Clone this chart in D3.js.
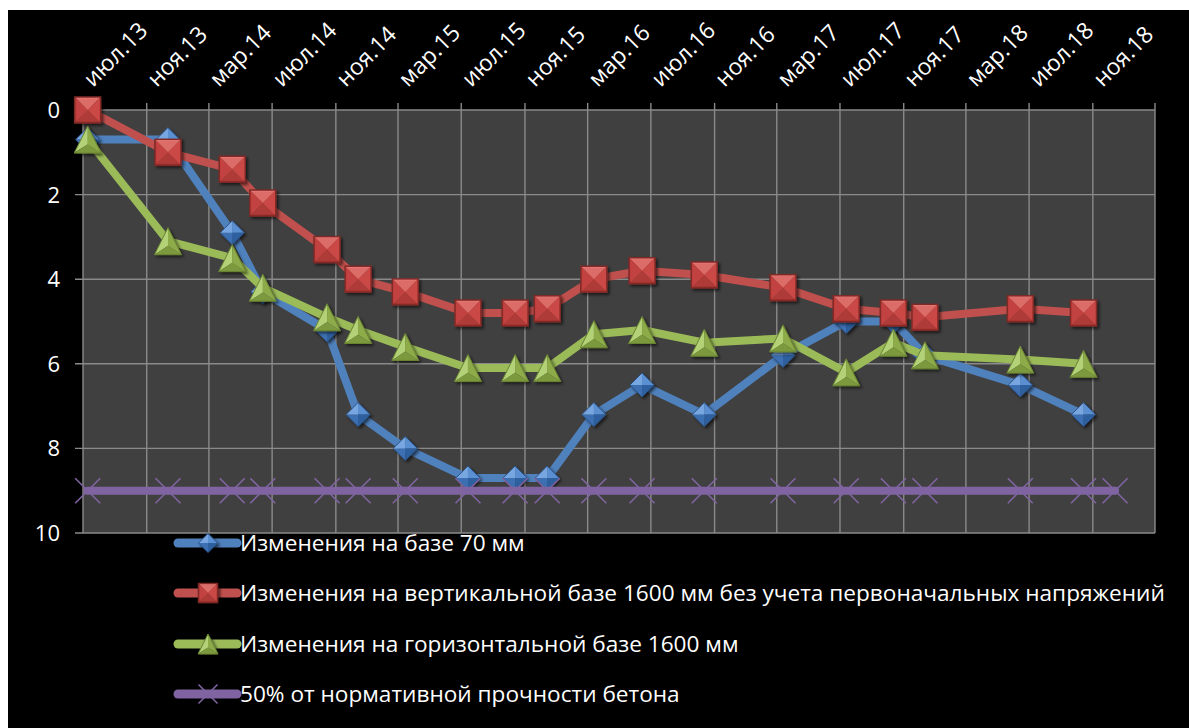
<!DOCTYPE html>
<html>
<head>
<meta charset="utf-8">
<script src="https://cdn.jsdelivr.net/npm/d3@7"></script>
<style>
  body { margin: 0; background: #fff; }
  text { font-family: "Open Sans", "Noto Sans", sans-serif; fill: #fff; }
</style>
</head>
<body>
<script>
'use strict';

// даты замеров
const dates = ["2013-07-10", "2013-12-12", "2014-04-15", "2014-06-13", "2014-10-15",
    "2014-12-14", "2015-03-15", "2015-07-14", "2015-10-13", "2015-12-14",
    "2016-03-13", "2016-06-14", "2016-10-12", "2017-03-13", "2017-07-13",
    "2017-10-12", "2017-12-12", "2018-06-14", "2018-10-14", "2018-12-14"];

const base70 = [0.7, 0.7, 2.9, 4.3, 5.2, 7.2, 8.0, 8.7, 8.7, 8.7, 7.2, 6.5, 7.2, 5.8, 5.0, 5.0, 5.8, 6.5, 7.2];
const vert1600 = [0, 1.0, 1.4, 2.2, 3.3, 4.0, 4.3, 4.8, 4.8, 4.7, 4.0, 3.8, 3.9, 4.2, 4.7, 4.8, 4.9, 4.7, 4.8];
const horiz1600 = [0.7, 3.1, 3.5, 4.2, 4.9, 5.2, 5.6, 6.1, 6.1, 6.1, 5.3, 5.2, 5.5, 5.4, 6.2, 5.5, 5.8, 5.9, 6.0];
const norm50 = [9, 9, 9, 9, 9, 9, 9, 9, 9, 9, 9, 9, 9, 9, 9, 9, 9, 9, 9, 9];

const xTickLabels = ["июл.13", "ноя.13", "мар.14", "июл.14", "ноя.14", "мар.15", "июл.15", "ноя.15",
    "мар.16", "июл.16", "ноя.16", "мар.17", "июл.17", "ноя.17", "мар.18", "июл.18", "ноя.18"];
const yTicks = [0, 2, 4, 6, 8, 10];

const seriesNames = ["Изменения на базе 70 мм",
    "Изменения на вертикальной базе 1600 мм без учета первоначальных напряжений",
    "Изменения на горизонтальной базе 1600 мм",
    "50% от нормативной прочности бетона"];

const W = 1189, H = 728;
const plot = { left: 83, right: 1155, top: 110, bottom: 533 };

const parse = d3.timeParse("%Y-%m-%d");
const xStart = parse("2013-07-01"), xEnd = parse("2019-03-01");

const svg = d3.select("body").append("svg")
    .attr("width", W).attr("height", H);

const defs = svg.append("defs");
const shadow = defs.append("filter").attr("id", "shadow")
    .attr("x", "-50%").attr("y", "-50%").attr("width", "200%").attr("height", "200%");
shadow.append("feDropShadow").attr("dx", 2).attr("dy", 2)
    .attr("stdDeviation", 1.5).attr("flood-color", "#000").attr("flood-opacity", 0.6);

svg.append("rect").attr("x", 8).attr("y", 10).attr("width", W - 8).attr("height", H - 10)
    .attr("fill", "#000");

const x = d3.scaleTime().domain([xStart, xEnd]).range([plot.left, plot.right]);
const y = d3.scaleLinear().domain([0, 10]).range([plot.top, plot.bottom]);

// фон области построения
svg.append("rect")
    .attr("x", plot.left).attr("y", plot.top)
    .attr("width", plot.right - plot.left).attr("height", plot.bottom - plot.top)
    .attr("fill", "#404040");

// деления каждые 4 месяца, начиная с июля 2013
const tickDates = d3.timeMonth.range(xStart, d3.timeDay.offset(xEnd, 1), 4);

// сетка
const grid = svg.append("g").attr("stroke", "#8a8a8a").attr("stroke-width", 1.4);
grid.selectAll(".vg").data(tickDates).enter().append("line")
    .attr("x1", d => x(d)).attr("x2", d => x(d))
    .attr("y1", plot.top - 7).attr("y2", plot.bottom);
grid.selectAll(".hg").data(yTicks).enter().append("line")
    .attr("x1", plot.left - 8).attr("x2", plot.right)
    .attr("y1", d => y(d)).attr("y2", d => y(d));

// подписи оси X сверху
svg.append("g").selectAll("text")
    .data(xTickLabels).enter().append("text")
    .attr("transform", (d, i) => "translate(" + (x(tickDates[i]) + 10) + "," + (plot.top - 22) + ") rotate(-45)")
    .attr("font-size", 23)
    .text(d => d);

// подписи оси Y
svg.append("g").selectAll("text")
    .data(yTicks).enter().append("text")
    .attr("x", 60).attr("y", d => y(d))
    .attr("dy", "0.36em")
    .attr("text-anchor", "end")
    .attr("font-size", 22)
    .text(d => d);

// маркеры
const palette = [
    { line: "#4F81BD", faces: ["#78a6e0", "#5a8fd2", "#2f5f9e", "#3d70b2"], stroke: "#2c5488" },
    { line: "#C0504D", faces: ["#ec7b77", "#cf4743", "#a52f2c", "#c23c39"], stroke: "#7e2a28" },
    { line: "#9BBB59", faces: ["#b3d176", "#8dab4a", "#7c9a3c"], stroke: "#6a8433" },
    { line: "#8064A2", faces: [], stroke: "#8064A2" }
];

function marker(g, type, p, s) {
    const h = s / 2;
    if (type === "square") {
        const faces = [
            [[-h, -h], [h, -h], [0, 0]],
            [[h, -h], [h, h], [0, 0]],
            [[h, h], [-h, h], [0, 0]],
            [[-h, h], [-h, -h], [0, 0]]
        ];
        const cols = [p.faces[0], p.faces[1], p.faces[2], p.faces[3]];
        faces.forEach((f, i) => g.append("path").attr("d", "M" + f.join("L") + "Z").attr("fill", cols[i]));
        g.append("rect").attr("x", -h + 1.5).attr("y", -h + 1.5).attr("width", s - 3).attr("height", s - 3)
            .attr("fill", p.line).attr("opacity", 0.35);
        g.append("rect").attr("x", -h).attr("y", -h).attr("width", s).attr("height", s)
            .attr("fill", "none").attr("stroke", p.stroke).attr("stroke-width", 1.5);
    } else if (type === "diamond") {
        const faces = [
            [[0, -h], [h, 0], [0, 0]],
            [[h, 0], [0, h], [0, 0]],
            [[0, h], [-h, 0], [0, 0]],
            [[-h, 0], [0, -h], [0, 0]]
        ];
        const cols = [p.faces[1], p.faces[2], p.faces[3], p.faces[0]];
        faces.forEach((f, i) => g.append("path").attr("d", "M" + f.join("L") + "Z").attr("fill", cols[i]));
        g.append("path").attr("d", "M0," + (-h) + "L" + h + ",0L0," + h + "L" + (-h) + ",0Z")
            .attr("fill", "none").attr("stroke", p.stroke).attr("stroke-width", 1);
    } else if (type === "triangle") {
        const top = [0, -h], bl = [-h, h], br = [h, h], c = [0, h * 0.35];
        const faces = [[top, bl, c], [top, br, c], [bl, br, c]];
        faces.forEach((f, i) => g.append("path").attr("d", "M" + f.join("L") + "Z").attr("fill", p.faces[i]));
        g.append("path").attr("d", "M" + [top, br, bl].join("L") + "Z")
            .attr("fill", "none").attr("stroke", p.stroke).attr("stroke-width", 1);
    } else {
        g.append("path").attr("d", "M" + (-h) + "," + (-h) + "L" + h + "," + h + "M" + h + "," + (-h) + "L" + (-h) + "," + h)
            .attr("stroke", p.line).attr("stroke-width", 1.6).attr("fill", "none");
    }
}

const allSeries = [base70, vert1600, horiz1600, norm50];
const types = ["diamond", "square", "triangle", "x"];
const sizes = [24, 26, 27, 25];

const lineGen = d3.line()
    .x(d => x(d.date))
    .y(d => y(d.value));

allSeries.forEach(function (vals, si) {
    const pts = vals.map((v, i) => ({ date: parse(dates[i]), value: v }));
    const g = svg.append("g");
    g.append("path").datum(pts)
        .attr("d", lineGen)
        .attr("fill", "none")
        .attr("stroke", palette[si].line)
        .attr("stroke-width", 8)
        .attr("stroke-linejoin", "round")
        .attr("stroke-linecap", "round");
    g.selectAll(".m").data(pts).enter().append("g")
        .attr("transform", d => "translate(" + x(d.date) + "," + y(d.value) + ")")
        .attr("filter", types[si] === "x" ? null : "url(#shadow)")
        .each(function () { marker(d3.select(this), types[si], palette[si], sizes[si]); });
});

// легенда
const legendY = [543, 593, 644, 694];
const legend = svg.append("g");
const legendSizes = [19, 19, 20, 19];
seriesNames.forEach(function (name, i) {
    const row = legend.append("g").attr("transform", "translate(0," + legendY[i] + ")");
    row.append("line").attr("x1", 178).attr("x2", 237)
        .attr("stroke", palette[i].line).attr("stroke-width", 9).attr("stroke-linecap", "round");
    const m = row.append("g").attr("transform", "translate(208,0)")
        .attr("filter", types[i] === "x" ? null : "url(#shadow)");
    marker(m, types[i], palette[i], legendSizes[i]);
    row.append("text").attr("x", 240).attr("dy", "0.36em")
        .attr("class", "legend-text")
        .text(name);
});

// подбор размера шрифта легенды под ширину
const longest = legend.selectAll(".legend-text").attr("font-size", 20);
let maxW = 0;
longest.each(function () { maxW = Math.max(maxW, this.getComputedTextLength()); });
legend.selectAll(".legend-text").attr("font-size", 20 * 925 / maxW);
</script>
</body>
</html>
